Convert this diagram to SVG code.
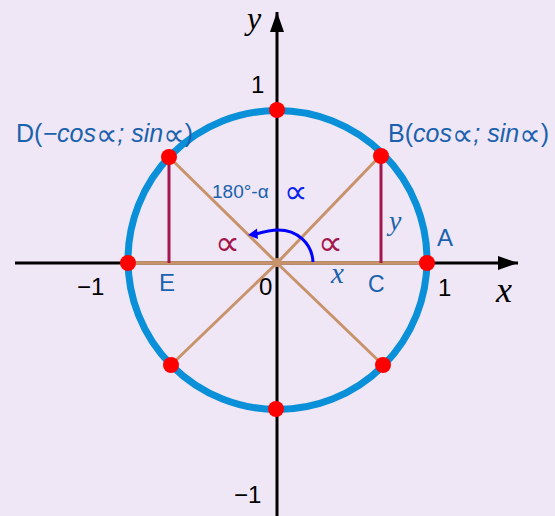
<svg xmlns="http://www.w3.org/2000/svg" width="555" height="516" viewBox="0 0 555 516">
<style>
.lbl{font-family:"Liberation Sans","DejaVu Sans",sans-serif;fill:#1a62ad;}
.blk{font-family:"Liberation Sans","DejaVu Sans",sans-serif;fill:#000;}
.it{font-family:"Liberation Serif","DejaVu Serif",serif;font-style:italic;}
.si{font-style:italic;}
.pr{font-family:"DejaVu Sans",sans-serif;font-style:normal;}
.dot{fill:#ff0000;}
.tan{stroke:#c8936b;fill:none;}
.mar{stroke:#a3174c;stroke-width:3;fill:none;}
.axis{stroke:#000;stroke-width:3;fill:none;}
</style>
<defs>
<marker id="ah" markerWidth="20" markerHeight="14" refX="20" refY="7" orient="auto" markerUnits="userSpaceOnUse">
<path d="M0,0 L20,7 L0,14 Z" fill="#000"/>
</marker>
</defs>
<rect x="0" y="0" width="555" height="516" fill="#f0e7f6"/>
<g id="axes">
<line class="axis" x1="15" y1="263" x2="518" y2="263" marker-end="url(#ah)"/>
<line class="axis" x1="277" y1="516" x2="277" y2="12" marker-end="url(#ah)"/>
</g>
<g id="circle">
<circle cx="277.5" cy="260" r="149.5" fill="none" stroke="#0a90d8" stroke-width="7"/>
</g>
<g id="connectors">
<line class="tan" stroke-width="3.5" x1="128" y1="263" x2="427" y2="263"/>
<line class="tan" stroke-width="3" x1="277" y1="263" x2="381" y2="155"/>
<line class="tan" stroke-width="3" x1="277" y1="263" x2="169" y2="157"/>
<line class="tan" stroke-width="3" x1="277" y1="263" x2="171" y2="365"/>
<line class="tan" stroke-width="3" x1="277" y1="263" x2="383" y2="365"/>
<line class="mar" x1="169" y1="157" x2="169" y2="263"/>
<line class="mar" x1="381" y1="155" x2="381" y2="263"/>
<path d="M313,262 C312,243 297,230 278,230 C270,230 263,232 256,234" fill="none" stroke="#0000ff" stroke-width="3"/>
<path d="M248,235 L257,228.5 L258,239 Z" fill="#0000ff"/>
<circle cx="277" cy="262.5" r="4.5" fill="#c8936b"/>
</g>
<g id="pointTop"><circle class="dot" cx="277" cy="110" r="8"/></g>
<g id="pointBottom"><circle class="dot" cx="276" cy="409" r="8"/></g>
<g id="pointA"><circle class="dot" cx="427" cy="263" r="8"/></g>
<g id="pointLeft"><circle class="dot" cx="128" cy="263" r="8"/></g>
<g id="pointB"><circle class="dot" cx="381" cy="156" r="8"/></g>
<g id="pointD"><circle class="dot" cx="169" cy="157" r="8"/></g>
<g id="pointLL"><circle class="dot" cx="171" cy="365" r="8"/></g>
<g id="pointLR"><circle class="dot" cx="383" cy="365" r="8"/></g>
<g id="labels">
<text class="blk it" x="247" y="29" font-size="32">y</text>
<text class="blk it" x="496" y="302" font-size="36">x</text>
<text class="blk" x="251" y="93" font-size="24">1</text>
<text class="blk" x="438" y="296" font-size="24">1</text>
<text class="blk" x="259" y="295" font-size="24">0</text>
<text class="blk" x="77" y="295" font-size="24">−1</text>
<text class="blk" x="234" y="503" font-size="24">−1</text>
<text class="lbl" x="16" y="142" font-size="25">D(<tspan class="si">−cos</tspan><tspan class="pr" font-size="30" dy="3">∝</tspan><tspan class="si" dy="-3">; sin</tspan><tspan class="pr" font-size="30" dy="3">∝</tspan><tspan dy="-3">)</tspan></text>
<text class="lbl" x="388" y="142" font-size="25">B(<tspan class="si">cos</tspan><tspan class="pr" font-size="30" dy="3">∝</tspan><tspan class="si" dy="-3">; sin</tspan><tspan class="pr" font-size="30" dy="3">∝</tspan><tspan dy="-3">)</tspan></text>
<text class="lbl" x="212" y="198" font-size="19">180°-α</text>
<text class="pr" x="284" y="203" font-size="33" fill="#0a22f0">∝</text>
<text class="pr" x="215" y="255" font-size="35" fill="#a3174c">∝</text>
<text class="pr" x="318" y="255" font-size="35" fill="#a3174c">∝</text>
<text class="lbl it" x="389" y="230" font-size="28">y</text>
<text class="lbl it" x="331" y="283" font-size="29">x</text>
<text class="lbl" x="437" y="246" font-size="24">A</text>
<text class="lbl" x="368" y="292" font-size="23">C</text>
<text class="lbl" x="159" y="291" font-size="24">E</text>
</g>
</svg>
